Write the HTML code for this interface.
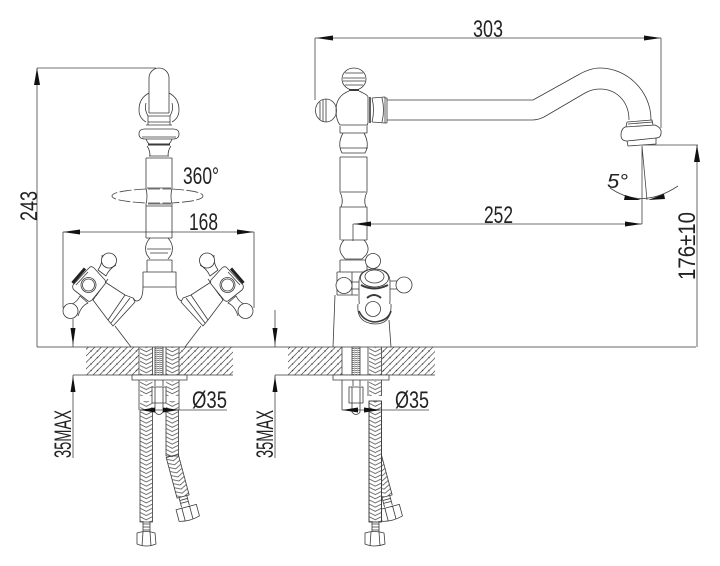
<!DOCTYPE html>
<html><head><meta charset="utf-8"><style>
html,body{margin:0;padding:0;background:#fff}
svg{display:block}
text{font-family:"Liberation Sans",sans-serif;fill:#222;stroke:none}
</style></head><body>
<svg width="720" height="566" viewBox="0 0 720 566" xmlns="http://www.w3.org/2000/svg">
<defs>
<pattern id="h" width="6.5" height="6.5" patternUnits="userSpaceOnUse"><path d="M-1 7.500L7.500-1M-1 1.500L1.500-1M5 7.500L7.500 5" stroke="#444" stroke-width=".7" fill="none"/></pattern>
<pattern id="b1" x="140" y="0" width="12.500" height="4.200" patternUnits="userSpaceOnUse"><path d="M0 0L6.250 3.200L12.500 0M0 4.200L6.250 7.400L12.500 4.200M0-4.200L6.250-1L12.500-4.200" stroke="#555" stroke-width=".8" fill="none"/></pattern>
<pattern id="b2" x="166" y="0" width="12.500" height="4.200" patternUnits="userSpaceOnUse"><path d="M0 0L6.250 3.200L12.500 0M0 4.200L6.250 7.400L12.500 4.200M0-4.200L6.250-1L12.500-4.200" stroke="#555" stroke-width=".8" fill="none"/></pattern>
<pattern id="b3" x="369" y="0" width="12.500" height="4.200" patternUnits="userSpaceOnUse"><path d="M0 0L6.250 3.200L12.500 0M0 4.200L6.250 7.400L12.500 4.200M0-4.200L6.250-1L12.500-4.200" stroke="#555" stroke-width=".8" fill="none"/></pattern>
<pattern id="t" width="3" height="2" patternUnits="userSpaceOnUse"><path d="M0 1L3 .4" stroke="#555" stroke-width=".8" fill="none"/></pattern>

<g id="handleL">
  <!-- spout stub -->
  <path d="M105 282L125 295L133 298L135 302L113 326L108 320L93 300Z" fill="#fff"/>
  <path d="M125 295L108 320M130 298L111 323M96 296L108 279" />
  <!-- arm top-right -->
  <path d="M102 255Q103 263 98 270L106 276Q109 269 116 265" fill="#fff"/>
  <circle cx="109" cy="260.500" r="7.500" fill="#fff" stroke="#333"/>
  <!-- arm bottom-left -->
  <path d="M72 304Q77 302 80 296L88 303Q81 306 78 316" fill="#fff"/>
  <circle cx="70.500" cy="311" r="7.500" fill="#fff"/>
  <!-- body -->
  <path d="M90 267Q92 266 94 268L105 280Q106 282 105 284L92 300Q90 302 88 301L74 290Q72 288 73 285L87 270Z" fill="#fff"/>
  <path d="M72.500 283L85 268.500" stroke-width="3" stroke="#222" fill="none"/>
  <path d="M76 285L88 272" fill="none"/>
  <circle cx="88.500" cy="285" r="7.500" fill="#fff"/>
  <circle cx="88.500" cy="285" r="6"/>
</g>
</defs>

<g fill="none" stroke="#3a3a3a" stroke-width=".8" stroke-linejoin="round">

<!-- hatching -->
<rect x="86" y="347" width="53" height="28" fill="url(#h)" stroke="none"/>
<rect x="179" y="347" width="54" height="28" fill="url(#h)" stroke="none"/>
<rect x="288" y="347" width="54" height="28" fill="url(#h)" stroke="none"/>
<rect x="382" y="347" width="53" height="28" fill="url(#h)" stroke="none"/>

<path d="M37 347H696M73 375H233M275 375H435"/>

<!-- LEFT VIEW body -->
<path d="M149 113V78A10 10 0 0 1 169 78V113M149 113H169"/>
<path d="M149 93Q139 98 139 110Q139 118 146 122M169 93Q179 98 179 110Q179 118 172 122"/>
<path d="M146 103Q144 109 148 116M172 103Q174 109 170 116M148 116H170M148 122H170M148 116V125M170 116V125M146 125H172"/>
<path d="M145 129H173Q179 129 179 134Q179 139 173 139H145Q139 139 139 134Q139 129 145 129ZM142 137H176M146 139Q147 142 149 144H169Q171 142 172 139"/>
<path d="M148 144.500H170" stroke-width="2"/>
<path d="M147 146Q150 150 150 156M171 146Q168 150 168 156M149 156H169"/>
<path d="M146 158H172V188Q170 197 172 204V206M146 158V188Q148 197 146 204V206M147 188H171M148 204H171M146 206H172V238M146 206V238"/>
<path d="M146 238H172M150 238Q143 246 147 255L150 259M168 238Q175 246 171 255L168 259M147 249H171M150 253H168M147 260H172V272M147 260V272M143 272H176V287M143 272V287M143 287H176"/>
<path d="M143 287Q143 300 137 301Q135 301 133 298M176 287Q176 300 182 301Q184 301 186 298"/>

<path d="M115 326L131 347M201 326L185 347"/>
<use href="#handleL"/>
<use href="#handleL" transform="translate(316,0) scale(-1,1)"/>

<!-- left below deck -->
<rect x="140" y="347" width="12.500" height="28" fill="url(#b1)" stroke="none"/>
<rect x="166" y="347" width="12.500" height="28" fill="url(#b2)" stroke="none"/>
<rect x="155" y="347" width="8" height="28" fill="url(#t)"/>
<path d="M139 347V375M152.500 347V375M166 347V375M179 347V375"/>
<rect x="132" y="375" width="55" height="5" fill="#fff"/>
<path d="M139 380V410M179 380V410"/>
<rect x="140" y="381" width="12.500" height="15" fill="url(#b1)" stroke="none"/>
<rect x="166" y="381" width="12.500" height="15" fill="url(#b2)" stroke="none"/>
<rect x="140" y="401" width="12.500" height="9" fill="url(#b1)" stroke="none"/>
<rect x="166" y="401" width="12.500" height="9" fill="url(#b2)" stroke="none"/>
<path d="M155 380V386M163 380V386"/>
<path d="M152 387H166V403H152ZM155 387V403M163 387V403"/>
<path d="M155 403V412Q159 417 163 412V403"/>

<rect x="140" y="410" width="12.500" height="112" fill="url(#b1)"/>
<path d="M143 521V532M150 521V532M143 524H150M143 527H150M143 530H150"/>
<path d="M137 533Q146 530 155 533L156 544Q146 548 137 544ZM143 532L142 546M150 532L151 546"/>
<g transform="rotate(-15 172 456)">
<rect x="166" y="456" width="12.500" height="42" fill="url(#b2)" stroke="#3a3a3a"/>
<path d="M168 498V508M176 498V508M168 501H176M168 504H176"/>
<path d="M162 509H183V521Q172 524 162 521ZM168 509V522M176 509V522"/>
</g>
<rect x="166" y="410" width="12.500" height="46" fill="url(#b2)"/>

<!-- RIGHT VIEW -->
<path d="M387 100H533L578 75Q590 68 600 68C626 68 651 90 651 120"/>
<path d="M387 120H532Q538 120 544 117L585 93Q592 89 600 89C615 89 629 100 629 120"/>
<path d="M627 122L652 120L653 125M628 124L653 122M627 122L626 127M625 127L655 125Q662 128 661 133Q661 138 656 138L627 141Q621 141 621 135Q621 129 625 127ZM627 141L628 146L656 144L656 138"/>

<ellipse cx="354" cy="79" rx="12" ry="11" fill="#fff"/>
<path d="M345 73H363M343 78H365M343 81H365M345 85H363"/>
<path d="M349 90H359" stroke-width="2"/>
<ellipse cx="326" cy="110.500" rx="10.500" ry="11.500" fill="#fff"/>
<path d="M320 102V120M323 100V122M326 99V122"/>
<path d="M349 91Q336 96 336 110Q336 120 340 125M359 91Q368 95 368 97V123L367 125M340 125H368"/>
<path d="M370 97V123" stroke-width="1.600"/>
<path d="M372 98L385 97V123L372 122M372 98Q375 110 372 122M382 98Q385 110 382 122M387 98V123M385 98H387M385 123H387"/>
<path d="M340 126V133H367V126M343 133Q337 144 342 153H365Q370 144 364 133M340 148H368"/>
<path d="M340 157H367V192Q363 200 366 207H367V240M340 157V192Q344 200 341 207H340V240M341 192H366M341 207H366"/>
<path d="M341 240H367M344 240Q337 248 342 255L345 259M364 240Q371 248 366 255L362 259M345 259H362M340 260H367V272M340 260V272M337 272H368M337 272V295M352 272V295M337 295H358"/>
<path d="M335 295L333 347M389 320L391 347"/>

<circle cx="373" cy="261" r="7.500" fill="#fff"/>
<circle cx="344" cy="285.500" r="8" fill="#fff"/>
<circle cx="404" cy="285" r="8" fill="#fff"/>
<path d="M352 282H360M352 289H360M389 281H397M389 289H397"/>
<path d="M359 282Q359 269 374.500 269Q390 269 390 282V300Q390 318 375 318Q359 318 359 300Z" fill="#fff"/>
<ellipse cx="374.500" cy="278" rx="14" ry="9"/>
<ellipse cx="374.500" cy="276.500" rx="9.500" ry="6.500"/>
<path d="M361 285Q374 292 388 285" stroke-width="2"/>
<path d="M367 298Q374 292 381 298" stroke-width="2"/>
<path d="M358 304Q356 323 375 324Q392 324 391 304" fill="#fff"/>
<path d="M359 311Q363 321 375 322Q388 321 391 311" stroke-width="1.600"/>
<circle cx="373" cy="309" r="7.500" fill="#fff"/>

<!-- right below deck -->
<path d="M342 347V375M368 347V375M381.500 347V375"/>
<rect x="369" y="347" width="12.500" height="28" fill="url(#b3)" stroke="none"/>
<rect x="352" y="347" width="8" height="28" fill="url(#t)"/>
<g transform="rotate(-15 375 456)">
<rect x="369" y="456" width="12.500" height="42" fill="url(#b3)" stroke="#3a3a3a"/>
<path d="M371 498V508M379 498V508M371 501H379M371 504H379"/>
<path d="M365 509H386V521Q375 524 365 521ZM371 509V522M379 509V522"/>
</g>
<rect x="333" y="375" width="56" height="5" fill="#fff"/>
<path d="M342 380V410M381.500 380V396"/>
<rect x="369" y="381" width="12.500" height="15" fill="url(#b3)" stroke="none"/>
<path d="M368 381V396"/>
<path d="M353 380V386M360 380V386M349 387H363V403H349ZM352 387V403M360 387V403M352 403V412Q356 417 360 412V403"/>
<rect x="369" y="401" width="12.500" height="121" fill="#fff"/>
<rect x="369" y="401" width="12.500" height="121" fill="url(#b3)"/>
<path d="M372 521V532M379 521V532M372 524H379M372 527H379M372 530H379"/>
<path d="M365 533Q374 530 384 533L385 544Q374 548 365 544ZM371 532L370 546M379 532L380 546"/>

<!-- dimension lines -->
<g stroke="#444" stroke-width=".8">
<path d="M37 68H156M37 68V347"/>
<path d="M63 232V308M254 232V308M63 232H254M73 319V347M73 375V458"/>
<path d="M275 310V347M275 375V458"/>
<path d="M315 38H661M315 38V100M661 38V128"/>
<path d="M353 224H642M353 224V241M642 146V224M642 146L647 200"/>
<path d="M642 145H698M697 145V347"/>
<path d="M610 188Q642 210 678 186"/>
<path d="M140 410H227M342 410H429"/>
<path d="M146 189Q112 191 112 196Q112 201 146 203M172 189Q203 191 203 196Q203 201 172 203M148 189H171M148 203H171" stroke-dasharray="12 2.500"/>
</g>
</g>

<!-- arrows -->
<g fill="#111">
<path d="M37 68L34 85H40Z"/>
<path d="M63 232L80 229.500V234.500Z"/>
<path d="M254 232L237 229.500V234.500Z"/>
<path d="M73 345L70.500 328H75.500Z"/>
<path d="M73 376L70.500 392H75.500Z"/>
<path d="M275 345L272.500 328H277.500Z"/>
<path d="M275 376L272.500 392H277.500Z"/>
<path d="M316 38L333 35.500V40.500Z"/>
<path d="M661 38L644 35.500V40.500Z"/>
<path d="M354 224L371 221.500V226.500Z"/>
<path d="M642 224L625 221.500V226.500Z"/>
<path d="M697 145L694 162H700Z"/>
<path d="M641 200L625 195L624 200Z"/>
<path d="M648 200L664 194L665 199Z"/>
<path d="M140 410L155 407.500V412.500Z"/>
<path d="M179 410L163 407.500V412.500Z"/>
<path d="M342 410L358 407.500V412.500Z"/>
<path d="M381 410L364 407.500V412.500Z"/>
</g>

<!-- labels -->
<g font-size="24.500">
<text x="473" y="37" textLength="30" lengthAdjust="spacingAndGlyphs">303</text>
<text x="484" y="223" textLength="29" lengthAdjust="spacingAndGlyphs">252</text>
<text x="189" y="230" textLength="29" lengthAdjust="spacingAndGlyphs">168</text>
<text x="183" y="184" textLength="36" lengthAdjust="spacingAndGlyphs">360°</text>
<text x="192" y="408" textLength="35" lengthAdjust="spacingAndGlyphs">Ø35</text>
<text x="395" y="408" textLength="34" lengthAdjust="spacingAndGlyphs">Ø35</text>
<text x="607" y="188" font-size="20" font-style="italic" textLength="21" lengthAdjust="spacingAndGlyphs">5°</text>
<text transform="translate(37,221) rotate(-90)" textLength="30" lengthAdjust="spacingAndGlyphs">243</text>
<text transform="translate(71,458) rotate(-90)" textLength="48" lengthAdjust="spacingAndGlyphs">35MAX</text>
<text transform="translate(273,458) rotate(-90)" textLength="48" lengthAdjust="spacingAndGlyphs">35MAX</text>
<text transform="translate(695,280) rotate(-90)" textLength="68" lengthAdjust="spacingAndGlyphs">176±10</text>
</g>
</svg>
</body></html>
